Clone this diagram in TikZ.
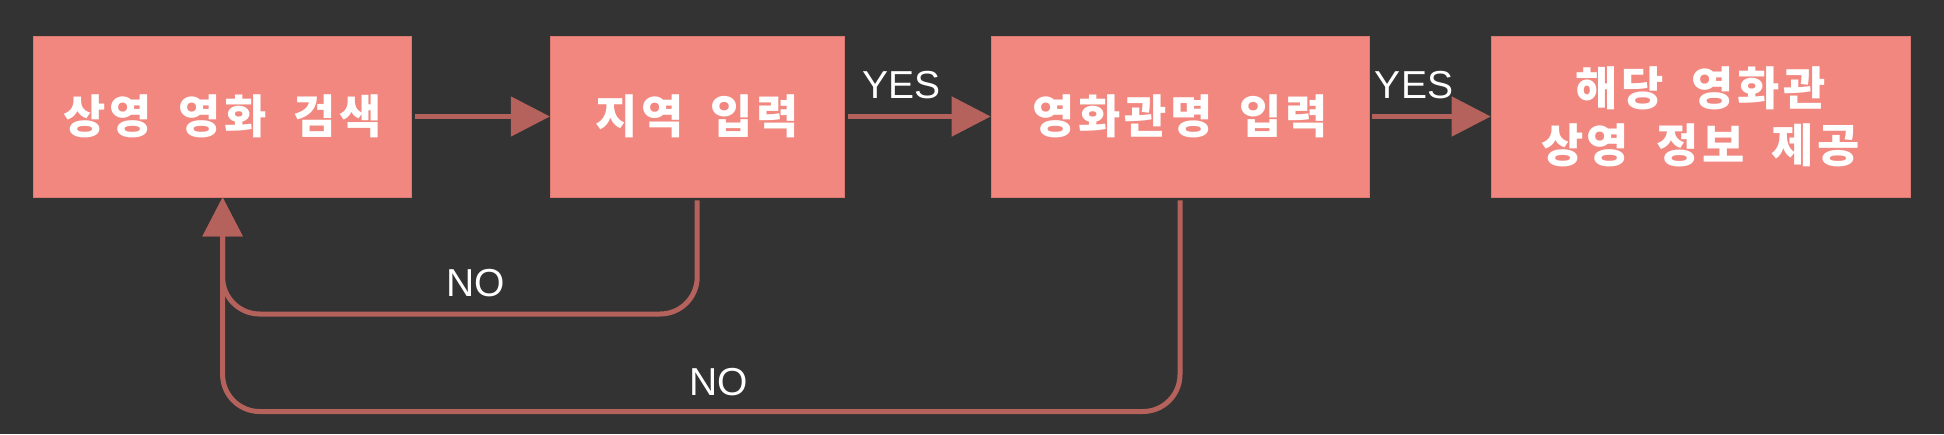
\documentclass[tikz,border=0pt]{standalone}
\usepackage{fontspec}
\setmainfont{Liberation Sans}
\newfontfamily\krfont{Noto Sans CJK KR}[LetterSpace=8,WordSpace=1.9]
\usetikzlibrary{arrows.meta}
\definecolor{bgdark}{HTML}{333333}
\definecolor{boxpink}{HTML}{F2877F}
\definecolor{linkred}{HTML}{B5625C}

\begin{document}
\begin{tikzpicture}[x=1pt,y=-1pt,
  every node/.style={inner sep=0pt},
  stage/.style={fill=boxpink, draw=boxpink!90!black, line width=0.6pt,
    minimum height=161pt, text=white, align=center,
    font=\krfont\bfseries\fontsize{46}{57}\selectfont},
  flow/.style={draw=linkred, line width=5pt,
    -{Triangle[length=39pt,width=39pt,fill=linkred]}},
  back/.style={flow, rounded corners=37pt},
  tag/.style={text=white, font=\fontsize{39}{47}\selectfont},
]
\fill[bgdark] (0,0) rectangle (1944,434);
\useasboundingbox (0,0) rectangle (1944,434);
% the four stages
\foreach \nm/\cx/\bw/\txt in {search/222.6/378/{상영 영화 검색},area/697.2/294/{지역 입력},
  theater/1180/378/{영화관명 입력},result/1700.5/419/{해당 영화관\\상영 정보 제공}}
  \node[stage, minimum width=\bw pt] (\nm) at (\cx,116.5) {\txt};
% yes path
\draw[flow, shorten <=3pt] (search.east) -- (area.west);
\draw[flow, shorten <=3pt] (area.east) -- (theater.west);
\draw[flow, shorten <=3pt] (theater.east) -- (result.west);
\node[tag] (yes1) at (901.5,85) {YES};
\node[tag] (yes2) at (1414,85) {YES};
% no path
\coordinate (lowa) at (0,314);
\coordinate (lowb) at (0,411.5);
\draw[back] ([yshift=-3pt]area.south) -- (area.south |- lowa) -- (search.south |- lowa) -- (search.south);
\draw[back] ([yshift=-3pt]theater.south) -- (theater.south |- lowb) -- (search.south |- lowb) -- (search.south);
\node[tag] (no1) at (476,283) {NO};
\node[tag] (no2) at (718.5,381.7) {NO};
\end{tikzpicture}
\end{document}
